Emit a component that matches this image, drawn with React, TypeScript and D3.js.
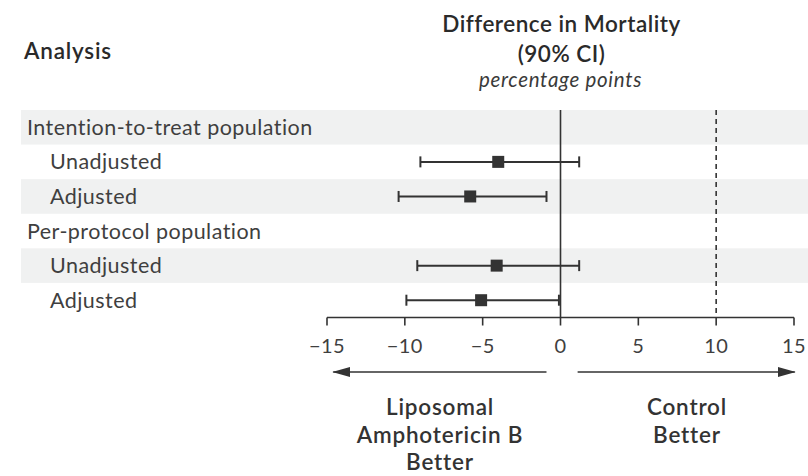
import React from "react";
import * as d3 from "d3";

const rowLabels = [
  "Intention-to-treat population",
  "Unadjusted",
  "Adjusted",
  "Per-protocol population",
  "Unadjusted",
  "Adjusted",
];
const rowIndented = [false, true, true, false, true, true];
const rowShaded = [true, false, true, false, true, false];
const estimates: (number | null)[] = [null, -4.0, -5.8, null, -4.1, -5.1];
const lowerCI: (number | null)[] = [null, -9.0, -10.4, null, -9.2, -9.9];
const upperCI: (number | null)[] = [null, 1.2, -0.9, null, 1.2, -0.1];
const tickValues = [-15, -10, -5, 0, 5, 10, 15];
const marginLine = 10;

const W = 808;
const H = 476;
const FONT = "Lato, 'Open Sans', sans-serif";
const INK = "#333";

export default function App() {
  const x = d3.scaleLinear().domain([-15, 15]).range([327, 794]);
  const y = d3
    .scaleBand<number>()
    .domain(rowLabels.map((_, i) => i))
    .range([110, 317.5])
    .paddingInner(0);
  const axisY = 317.5;
  const fmt = d3.format("d");
  const arrowY = 372;

  return (
    <svg
      width={W}
      height={H}
      style={{ position: "absolute", left: 0, top: 0, background: "#fff" }}
      fontFamily={FONT}
    >
      <defs>
        <marker
          id="ah"
          viewBox="0 0 18 10"
          refX="17"
          refY="5"
          markerWidth="18"
          markerHeight="10"
          markerUnits="userSpaceOnUse"
          orient="auto-start-reverse"
        >
          <path d="M0,0 L18,5 L0,10 Z" fill={INK} />
        </marker>
      </defs>

      {/* header */}
      <text x={24} y={59} fontSize={22.5} fontWeight={600} fill="#2a2a2a" letterSpacing={0.8}>
        Analysis
      </text>
      <g textAnchor="middle" fill="#2a2a2a" letterSpacing={0.5}>
        <text x={x(0) + 1} y={32} fontSize={22.5} fontWeight={600}>
          Difference in Mortality
        </text>
        <text x={x(0) + 1} y={62} fontSize={22.5} fontWeight={600}>
          (90% CI)
        </text>
        <text x={x(0)} y={87} fontSize={20.5} fontStyle="italic" fill="#3a3a3a" letterSpacing={0.7}>
          percentage points
        </text>
      </g>

      {/* row bands */}
      {rowLabels.map((_, i) =>
        rowShaded[i] ? (
          <rect
            key={"b" + i}
            x={21}
            y={y(i)!}
            width={W - 21}
            height={y.bandwidth()}
            fill="#f0f1f1"
          />
        ) : null
      )}

      {/* row labels */}
      {rowLabels.map((lab, i) => (
        <text
          key={"l" + i}
          x={rowIndented[i] ? 50 : 27}
          y={y(i)! + y.bandwidth() / 2}
          dy="0.35em"
          fontSize={21.5}
          letterSpacing={0.45}
          fill="#3f3f3f"
        >
          {lab}
        </text>
      ))}

      {/* reference lines */}
      <line x1={x(0)} x2={x(0)} y1={110} y2={axisY} stroke={INK} strokeWidth={1.6} />
      <line
        x1={x(marginLine)}
        x2={x(marginLine)}
        y1={110}
        y2={axisY}
        stroke={INK}
        strokeWidth={1.6}
        strokeDasharray="5,4"
      />

      {/* estimates */}
      {rowLabels.map((_, i) => {
        const e = estimates[i];
        const lo = lowerCI[i];
        const hi = upperCI[i];
        if (e === null || lo === null || hi === null) return null;
        const cy = y(i)! + y.bandwidth() / 2;
        return (
          <g key={"e" + i} stroke={INK} strokeWidth={2}>
            <line x1={x(lo)} x2={x(hi)} y1={cy} y2={cy} />
            <line x1={x(lo)} x2={x(lo)} y1={cy - 5.5} y2={cy + 5.5} />
            <line x1={x(hi)} x2={x(hi)} y1={cy - 5.5} y2={cy + 5.5} />
            <rect x={x(e) - 6} y={cy - 6} width={12} height={12} fill={INK} stroke="none" />
          </g>
        );
      })}

      {/* axis */}
      <line x1={x(-15)} x2={x(15)} y1={axisY} y2={axisY} stroke={INK} strokeWidth={1.6} />
      {tickValues.map((t) => (
        <g key={"t" + t}>
          <line x1={x(t)} x2={x(t)} y1={axisY} y2={axisY + 8} stroke={INK} strokeWidth={1.6} />
          <text
            x={x(t)}
            y={353}
            textAnchor="middle"
            fontSize={20}
            letterSpacing={0.4}
            fill="#3f3f3f"
          >
            {fmt(t)}
          </text>
        </g>
      ))}

      {/* direction arrows */}
      <line
        x1={x(-0.9)}
        x2={x(-14.6)}
        y1={arrowY}
        y2={arrowY}
        stroke={INK}
        strokeWidth={1.6}
        markerEnd="url(#ah)"
      />
      <line
        x1={x(1.1)}
        x2={x(15.05)}
        y1={arrowY}
        y2={arrowY}
        stroke={INK}
        strokeWidth={1.6}
        markerEnd="url(#ah)"
      />

      <g textAnchor="middle" fontSize={22.5} fontWeight={600} fill="#333" letterSpacing={0.8}>
        <text x={440} y={415}>Liposomal</text>
        <text x={440} y={443}>Amphotericin B</text>
        <text x={440} y={470}>Better</text>
        <text x={687} y={415}>Control</text>
        <text x={687} y={443}>Better</text>
      </g>
    </svg>
  );
}
